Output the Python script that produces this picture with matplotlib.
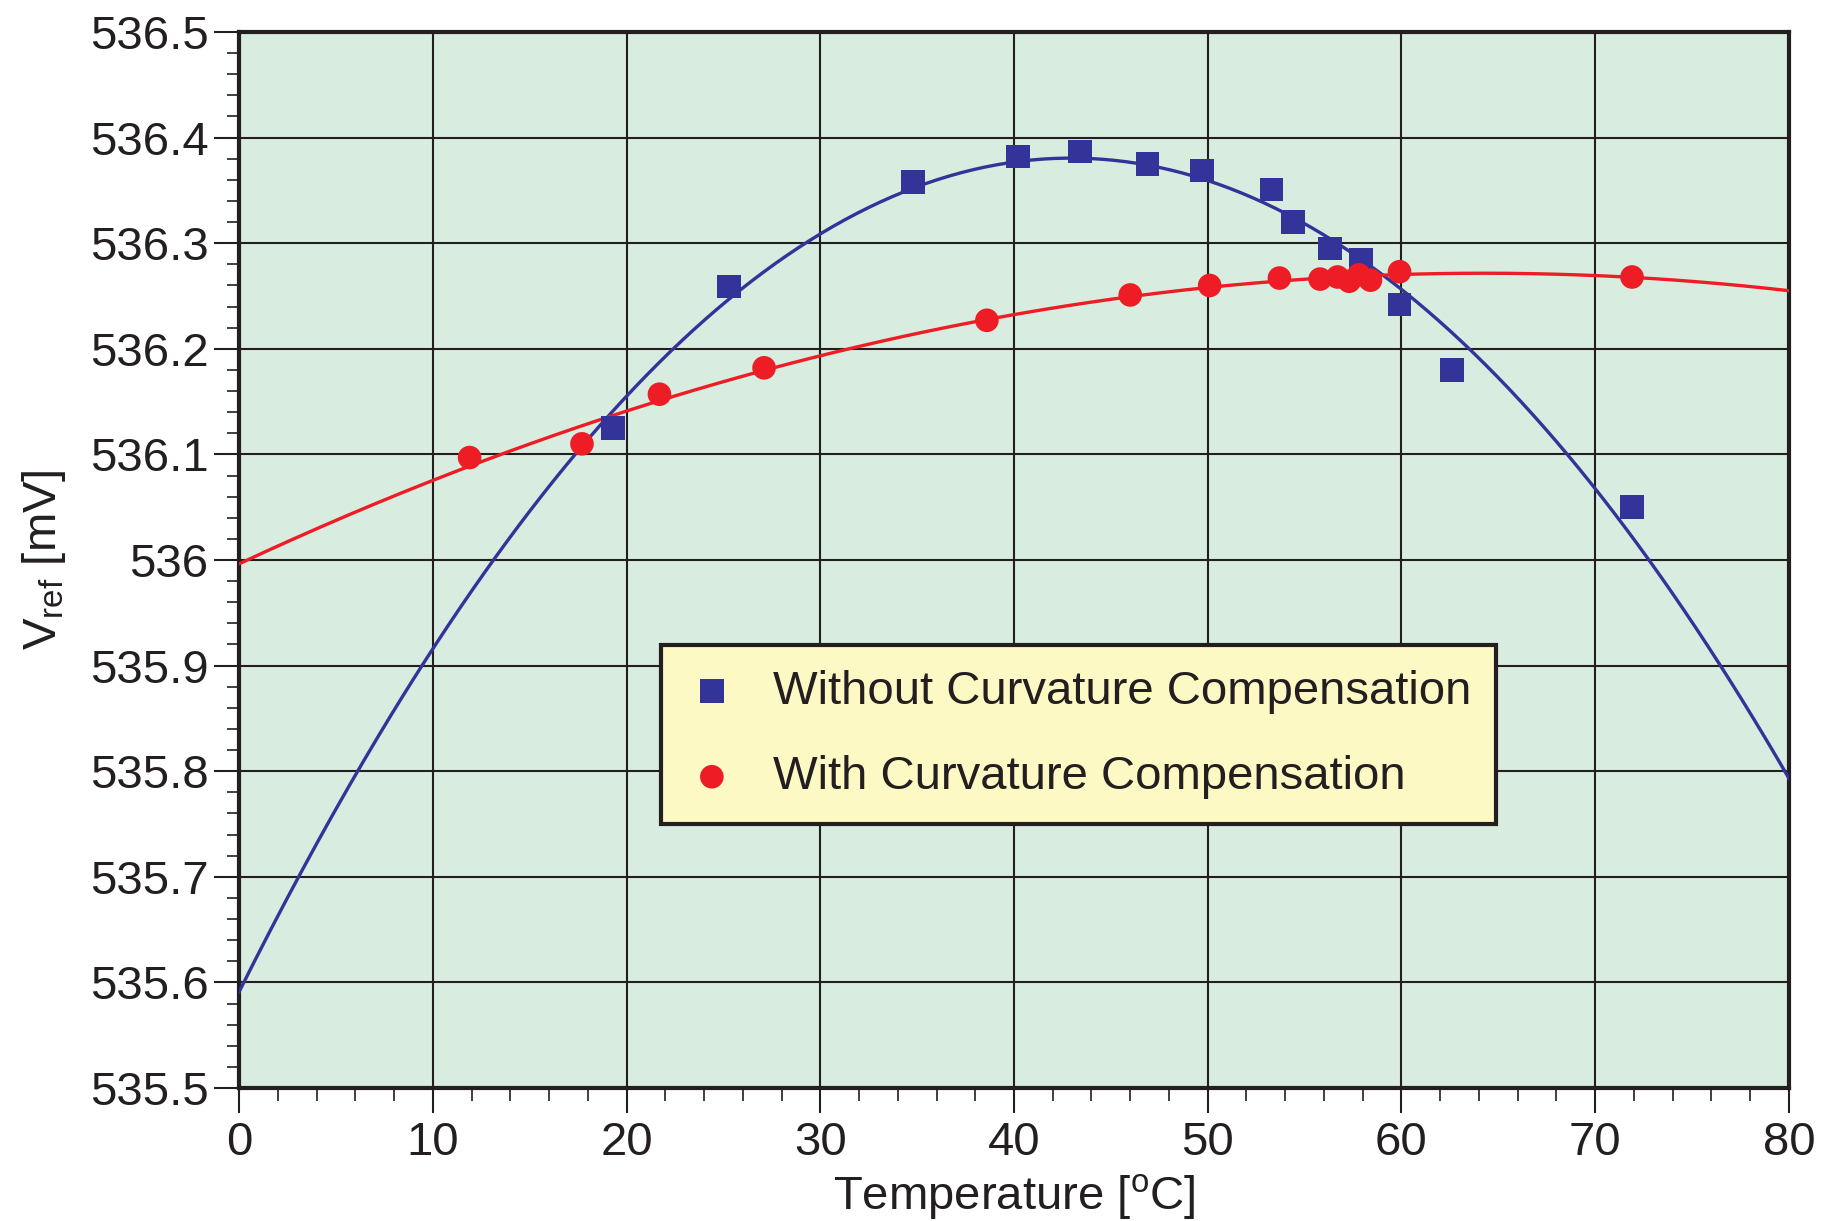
import numpy as np
import matplotlib
matplotlib.use('Agg')
import matplotlib.pyplot as plt
from matplotlib.ticker import MultipleLocator, FuncFormatter

# 读出的数据点
temp_wo = [19.3, 25.3, 34.8, 40.2, 43.4, 46.9, 49.7, 53.3, 54.4, 56.3, 57.9, 59.9, 62.6, 71.9]
vref_wo = [536.125, 536.259, 536.358, 536.382, 536.387, 536.375, 536.369, 536.351,
           536.320, 536.295, 536.284, 536.242, 536.180, 536.050]

temp_w = [11.9, 17.7, 21.7, 27.1, 38.6, 46.0, 50.1, 53.7, 55.8, 56.7, 57.3, 57.8, 58.4, 59.9, 71.9]
vref_w = [536.097, 536.110, 536.157, 536.182, 536.227, 536.251, 536.260, 536.267,
          536.266, 536.268, 536.264, 536.270, 536.265, 536.273, 536.268]

labels = ['Without Curvature Compensation', 'With Curvature Compensation']

blue = '#333399'
red = '#ee1c24'
ink = '#231f20'

plt.rcParams['font.family'] = ['Liberation Sans', 'DejaVu Sans']

fig = plt.figure(figsize=(18.29, 12.21), dpi=100)
ax = fig.add_axes([0.1307, 0.1089, 0.8474, 0.8649])
ax.set_facecolor('#d8ecdf')

# 二次拟合曲线
xx = np.linspace(0, 80, 400)
p_wo = np.polyfit(temp_wo, vref_wo, 2)
p_w = np.polyfit(temp_w, vref_w, 2)
ax.plot(xx, np.polyval(p_wo, xx), color=blue, lw=2.4, zorder=3)
ax.plot(xx, np.polyval(p_w, xx), color=red, lw=2.4, zorder=3)

ax.scatter(temp_wo, vref_wo, marker='s', s=17**2, color=blue, edgecolors='none',
           label=labels[0], zorder=4)
ax.scatter(temp_w, vref_w, marker='o', s=17**2, color=red, edgecolors='none',
           label=labels[1], zorder=4)

ax.set_xlim(0, 80)
ax.set_ylim(535.5, 536.5)
ax.xaxis.set_major_locator(MultipleLocator(10))
ax.xaxis.set_minor_locator(MultipleLocator(2))
ax.yaxis.set_major_locator(MultipleLocator(0.1))
ax.yaxis.set_minor_locator(MultipleLocator(0.02))
ax.yaxis.set_major_formatter(FuncFormatter(lambda v, _: f'{v:.1f}'.rstrip('0').rstrip('.')))

ax.grid(True, which='major', color=ink, lw=1.5)
ax.set_axisbelow(True)

ax.tick_params(which='major', length=18, width=1.5, color=ink, labelsize=34,
               labelcolor=ink, direction='out')
ax.tick_params(axis='x', which='major', pad=6)
ax.tick_params(axis='y', which='major', pad=4)
ax.tick_params(which='minor', length=9, width=1.2, color=ink, direction='out')

for s in ax.spines.values():
    s.set_linewidth(3)
    s.set_color(ink)

ax.set_xlabel('Temperature [$^{\\mathregular{o}}$C]', fontsize=34, color=ink, labelpad=5)
ax.set_ylabel('V$_{\\mathregular{ref}}$ [mV]', fontsize=34, color=ink, labelpad=16)

leg = ax.legend(loc='upper left', bbox_to_anchor=(0.272, 0.4195), borderaxespad=0,
                fontsize=34, fancybox=False, framealpha=1, facecolor='#fdf9c4',
                edgecolor=ink, handletextpad=0.74, handlelength=1.13,
                labelspacing=0.88, borderpad=0.52)
leg.get_frame().set_linewidth(3)
for t in leg.get_texts():
    t.set_color(ink)

plt.savefig('out.png', dpi=100)
